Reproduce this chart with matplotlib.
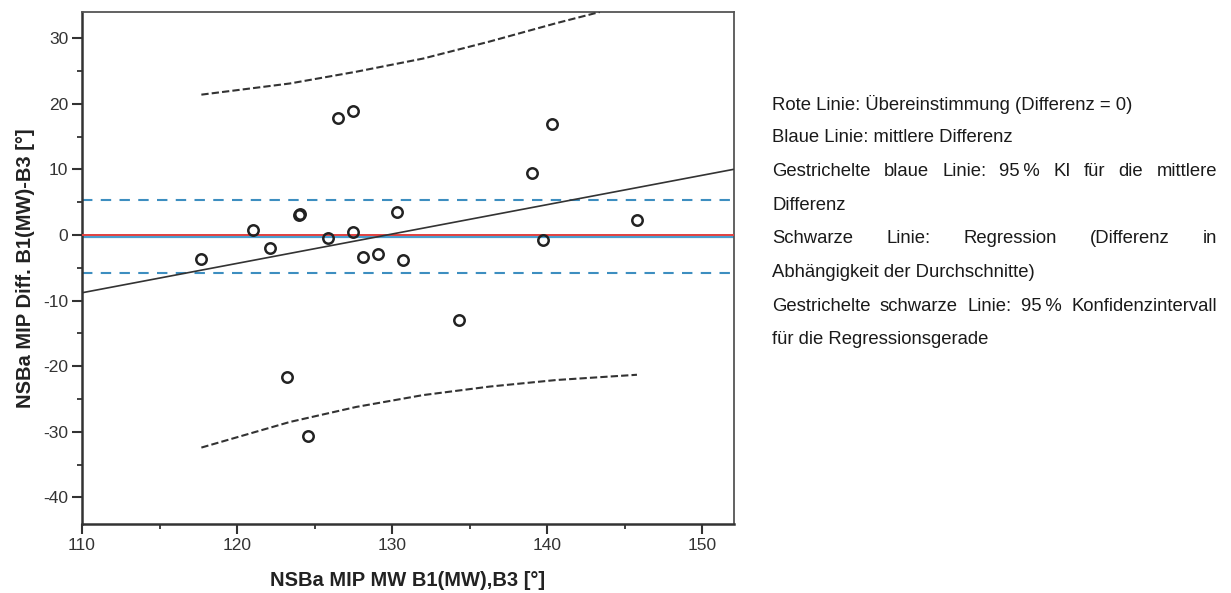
import matplotlib
matplotlib.use('Agg')
import matplotlib.pyplot as plt
from matplotlib.ticker import MultipleLocator

plt.rcParams['font.family'] = ['Liberation Sans', 'DejaVu Sans']
plt.rcParams['axes.unicode_minus'] = False

# Data
mean_x = [117.7, 121.0, 122.1, 124.0, 124.05, 125.9, 126.5, 127.5, 127.5, 128.15,
          129.1, 130.35, 130.7, 123.2, 124.55, 134.3, 140.3, 139.05, 145.8, 139.75]
diff_y = [-3.7, 0.8, -2.0, 3.0, 3.15, -0.5, 17.8, 18.9, 0.4, -3.4,
          -2.9, 3.55, -3.8, -21.7, -30.6, -13.0, 17.0, 9.4, 2.3, -0.8]

mean_diff = -0.25
ci_mean = [5.3, -5.8]

reg_x = [110, 152]
reg_y = [-8.8, 10.0]

ci_up_x = [117.7, 123.4, 127.7, 132.0, 136.3, 140.6, 143.4]
ci_up_y = [21.4, 23.1, 24.9, 26.9, 29.5, 32.3, 34.0]
ci_lo_x = [117.7, 123.4, 127.7, 132.0, 136.3, 140.6, 145.8]
ci_lo_y = [-32.4, -28.5, -26.2, -24.4, -23.1, -22.1, -21.3]

legend_lines = [
    ("Rote Linie: Übereinstimmung (Differenz = 0)", False),
    ("Blaue Linie: mittlere Differenz", False),
    ("Gestrichelte blaue Linie: 95\u2009% KI für die mittlere", True),
    ("Differenz", False),
    ("Schwarze Linie: Regression (Differenz in", True),
    ("Abhängigkeit der Durchschnitte)", False),
    ("Gestrichelte schwarze Linie: 95\u2009% Konfidenzintervall", True),
    ("für die Regressionsgerade", False),
]

W, H = 1231, 593
fig = plt.figure(figsize=(W / 100, H / 100), dpi=100)
ax = fig.add_axes([82 / W, 1 - 524 / H, 652 / W, 512 / H])

# reference lines
ax.axhline(mean_diff, color='#4a9fd0', lw=1.6, zorder=2)
ax.axhline(0, color='#e04040', lw=1.4, zorder=3)
for v in ci_mean:
    ax.axhline(v, color='#3d8ec0', lw=1.5, dashes=(5, 4), zorder=2)

ax.plot(reg_x, reg_y, color='#333333', lw=1.2, zorder=3)
ax.plot(ci_up_x, ci_up_y, color='#333333', lw=1.5, dashes=(3.5, 1.5), zorder=3)
ax.plot(ci_lo_x, ci_lo_y, color='#333333', lw=1.5, dashes=(3.5, 1.5), zorder=3)

ax.plot(mean_x, diff_y, 'o', ms=7.5, mfc='none', mec='#222222', mew=1.8, zorder=4)

ax.set_xlim(110, 152.06)
ax.set_ylim(-44.05, 34.0)
ax.xaxis.set_major_locator(MultipleLocator(10))
ax.xaxis.set_minor_locator(MultipleLocator(5))
ax.yaxis.set_major_locator(MultipleLocator(10))
ax.yaxis.set_minor_locator(MultipleLocator(5))
ax.tick_params(which='major', direction='out', length=7, width=1.5, color='#333333',
               labelsize=12.5, labelcolor='#333333', pad=3)
ax.tick_params(which='minor', direction='out', length=3.5, width=1.3, color='#333333')
for side in ['left', 'bottom']:
    ax.spines[side].set_linewidth(1.8)
    ax.spines[side].set_color('#333333')
for side in ['top', 'right']:
    ax.spines[side].set_linewidth(1.3)
    ax.spines[side].set_color('#555555')

ax.set_xlabel('NSBa MIP MW B1(MW),B3 [°]', fontsize=14.5, fontweight='bold', color='#222222', labelpad=13)
ax.set_ylabel('NSBa MIP Diff. B1(MW)-B3 [°]', fontsize=14.5, fontweight='bold', color='#222222', labelpad=6)

# explanation text, justified block on the right
x_left, x_right = 772, 1217
y0, dy = 104, 33.7
fs = 13.3
fig.canvas.draw()
renderer = fig.canvas.get_renderer()
for i, (line, justify) in enumerate(legend_lines):
    y = 1 - (y0 + i * dy) / H
    if not justify:
        fig.text(x_left / W, y, line, fontsize=fs, color='#1a1a1a', ha='left', va='center')
        continue
    words = line.split(' ')
    widths = []
    for w in words:
        t = fig.text(0, 0, w, fontsize=fs)
        widths.append(t.get_window_extent(renderer).width)
        t.remove()
    gap = (x_right - x_left - sum(widths)) / (len(words) - 1)
    x = x_left
    for w, wd in zip(words, widths):
        fig.text(x / W, y, w, fontsize=fs, color='#1a1a1a', ha='left', va='center')
        x += wd + gap

fig.savefig('out.png', dpi=100)
